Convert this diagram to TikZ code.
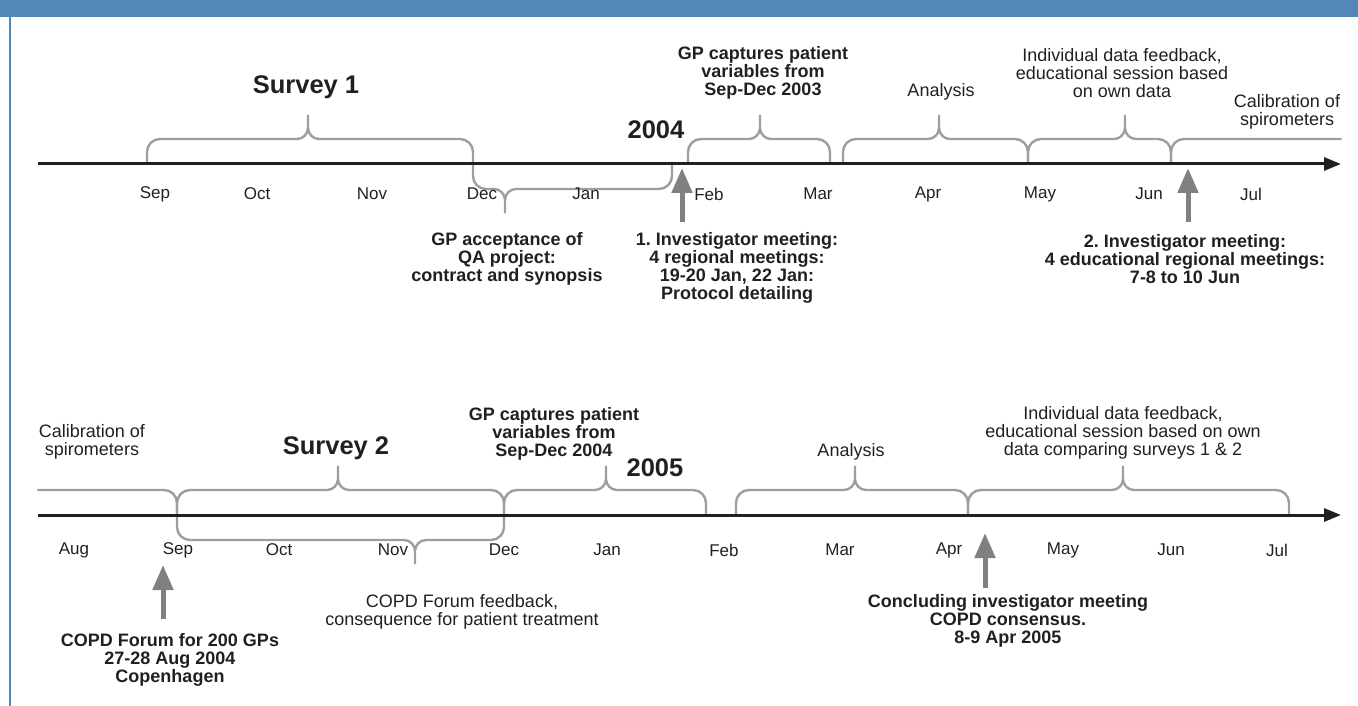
\documentclass[tikz,border=0pt]{standalone}
\usepackage{fontspec}
\setmainfont{Liberation Sans}
\usetikzlibrary{arrows.meta}
\definecolor{hdr}{RGB}{83,135,185}
\definecolor{txt}{RGB}{35,31,32}
\definecolor{brc}{RGB}{158,158,158}
\definecolor{arr}{RGB}{128,128,128}
% brace: #1 left x, #2 right x, #3 tip x, #4 axis y, #5 direction (-1 up, +1 down)
\newcommand{\tlbrace}[5]{%
  \draw[bracestyle] ({#1},{#4}) -- ({#1},{#4+#5*12})
    .. controls ({#1},{#4+#5*19.2}) and ({#1+5.8},{#4+#5*25}) .. ({#1+13},{#4+#5*25})
    -- ({#3-11},{#4+#5*25})
    .. controls ({#3-4.9},{#4+#5*25}) and ({#3},{#4+#5*30.1}) .. ({#3},{#4+#5*36})
    -- ({#3},{#4+#5*48.5}) -- ({#3},{#4+#5*36})
    .. controls ({#3},{#4+#5*30.1}) and ({#3+4.9},{#4+#5*25}) .. ({#3+11},{#4+#5*25})
    -- ({#2-13},{#4+#5*25})
    .. controls ({#2-5.8},{#4+#5*25}) and ({#2},{#4+#5*19.2}) .. ({#2},{#4+#5*12})
    -- ({#2},{#4});}
\begin{document}
\frenchspacing
\begin{tikzpicture}[x=1pt,y=-1pt,
  month/.style={font=\fontsize{17}{20}\selectfont, text=txt, inner sep=0pt},
  lab/.style={font=\fontsize{18}{18.3}\selectfont, text=txt, align=center, inner sep=0pt},
  blab/.style={font=\bfseries\fontsize{18}{17.8}\selectfont, text=txt, align=center, inner sep=0pt},
  big/.style={font=\bfseries\fontsize{25.5}{28}\selectfont, text=txt, inner sep=0pt},
  bracestyle/.style={draw=brc, line width=2.4pt, line cap=round, line join=round},
  axisline/.style={draw=txt, line width=3pt, -{Triangle[length=17pt,width=13pt]}},
  garrow/.style={draw=arr, line width=5pt, -{Triangle[length=25pt,width=20pt]}}]
\useasboundingbox (0,0) rectangle (1358,706);
% header and border
\fill[hdr] (0,0) rectangle (1358,17);
\draw[hdr, line width=2.5pt] (10,17) -- (10,706);

% ===== top timeline =====
\coordinate (t0) at (38,164);
\coordinate (t1) at (1341,164);
\tlbrace{147}{473}{308}{164}{-1}
\tlbrace{473}{672}{505}{164}{1}
\tlbrace{688}{830}{760}{164}{-1}
\tlbrace{843}{1028}{939}{164}{-1}
\tlbrace{1028}{1171}{1125}{164}{-1}
\draw[bracestyle] (1171,164) -- (1171,152) .. controls (1171,144.8) and (1176.8,139) .. (1184,139) -- (1341,139);
\draw[axisline] (t0) -- (t1);

\node[month] (tsep) at (155,194) {Sep};
\node[month] (toct) at (257,194) {Oct};
\node[month] (tnov) at (372,194) {Nov};
\node[month] (tdec) at (482,194) {Dec};
\node[month] (tjan) at (586,194) {Jan};
\node[month] (tfeb) at (709,194) {Feb};
\node[month] (tmar) at (818,194) {Mar};
\node[month] (tapr) at (928,194) {Apr};
\node[month] (tmay) at (1040,194) {May};
\node[month] (tjun) at (1149,194) {Jun};
\node[month] (tjul) at (1251,194) {Jul};

\node[big] (survey1) at (306,87) {Survey 1};
\node[big] (y2004) at (656,130) {2004};
\node[blab] (gpcap1) at (763,73) {GP captures patient\\variables from\\Sep-Dec 2003};
\node[lab] (anal1) at (941,92) {Analysis};
\node[lab] (indiv1) at (1122,73) {Individual data feedback,\\educational session based\\on own data};
\node[lab] (calib1) at (1287,112) {Calibration of\\spirometers};
\node[blab] (gpacc) at (507,259) {GP acceptance of\\QA project:\\contract and synopsis};
\node[blab] (inv1) at (737,268) {1. Investigator meeting:\\4 regional meetings:\\19-20 Jan, 22 Jan:\\Protocol detailing};
\node[blab] (inv2) at (1185,259) {2. Investigator meeting:\\4 educational regional meetings:\\7-8 to 10 Jun};

\coordinate (a1s) at (682,222); \coordinate (a1t) at (682,168);
\coordinate (a2s) at (1188,222); \coordinate (a2t) at (1188,168);
\draw[garrow] (a1s) -- (a1t);
\draw[garrow] (a2s) -- (a2t);

% ===== bottom timeline =====
\coordinate (b0) at (38,515);
\coordinate (b1) at (1341,515);
\draw[bracestyle] (38,490) -- (164,490) .. controls (171.2,490) and (177,495.8) .. (177,503) -- (177,515);
\tlbrace{177}{504}{338}{515}{-1}
\tlbrace{177}{504}{415}{515}{1}
\tlbrace{504}{706}{606}{515}{-1}
\tlbrace{736}{968}{855}{515}{-1}
\tlbrace{968}{1289}{1123}{515}{-1}
\draw[axisline] (b0) -- (b1);

\node[month] (baug) at (74,550) {Aug};
\node[month] (bsep) at (178,550) {Sep};
\node[month] (boct) at (279,550) {Oct};
\node[month] (bnov) at (393,550) {Nov};
\node[month] (bdec) at (504,550) {Dec};
\node[month] (bjan) at (607,550) {Jan};
\node[month] (bfeb) at (724,550) {Feb};
\node[month] (bmar) at (840,550) {Mar};
\node[month] (bapr) at (949,550) {Apr};
\node[month] (bmay) at (1063,550) {May};
\node[month] (bjun) at (1171,550) {Jun};
\node[month] (bjul) at (1277,550) {Jul};

\node[lab] (calib2) at (92,442) {Calibration of\\spirometers};
\node[big] (survey2) at (336,448) {Survey 2};
\node[blab] (gpcap2) at (554,434) {GP captures patient\\variables from\\Sep-Dec 2004};
\node[big] (y2005) at (655,468) {2005};
\node[lab] (anal2) at (851,452) {Analysis};
\node[lab] (indiv2) at (1123,433) {Individual data feedback,\\educational session based on own\\data comparing surveys 1 \& 2};
\node[blab] (forum) at (170,660) {COPD Forum for 200 GPs\\27-28 Aug 2004\\Copenhagen};
\node[lab] (feedb) at (462,612) {COPD Forum feedback,\\consequence for patient treatment};
\node[blab] (concl) at (1008,621) {Concluding investigator meeting\\COPD consensus.\\8-9 Apr 2005};

\coordinate (a3s) at (163,619); \coordinate (a3t) at (163,565);
\coordinate (a4s) at (985,588); \coordinate (a4t) at (985,533);
\draw[garrow] (a3s) -- (a3t);
\draw[garrow] (a4s) -- (a4t);
\end{tikzpicture}
\end{document}
